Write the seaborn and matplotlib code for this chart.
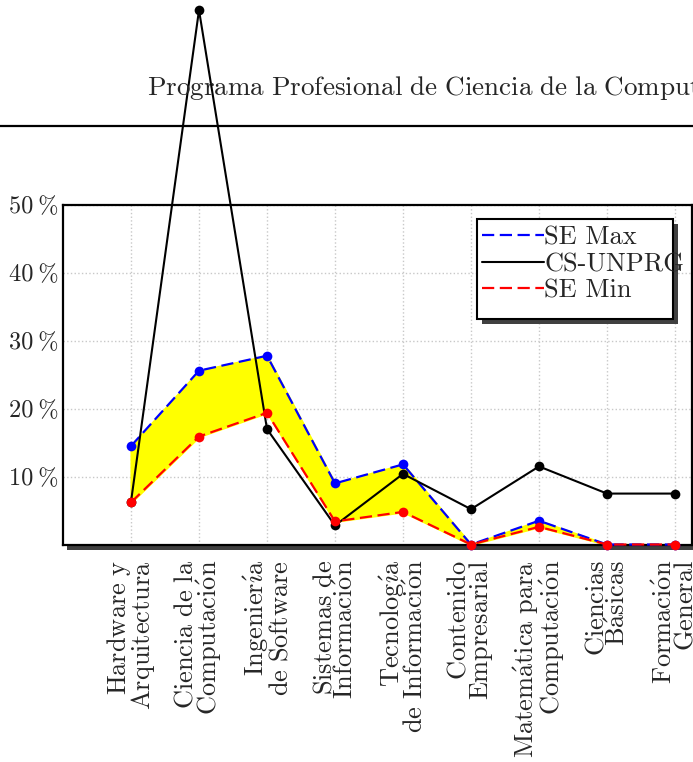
import numpy as np
import pandas as pd
import matplotlib
matplotlib.use('Agg')
import matplotlib.pyplot as plt
from matplotlib.lines import Line2D
from matplotlib.patches import Rectangle
import seaborn as sns

# ------------------------------------------------------------
# Data (percent of credits per knowledge area)
# ------------------------------------------------------------
categories = ["Hardware y\nArquitectura", "Ciencia de la\nComputación",
              "Ingeniería\nde Software", "Sistemas de\nInformación",
              "Tecnología\nde Información", "Contenido\nEmpresarial",
              "Matemática para\nComputación", "Ciencias\nBásicas",
              "Formación\nGeneral"]
area_idx = [1, 2, 3, 4, 5, 6, 7, 8, 9]
se_max = [14.5, 25.6, 27.8, 9.0, 11.8, 0.0, 3.5, 0.0, 0.0]
se_min = [6.2, 15.9, 19.4, 3.4, 4.8, 0.0, 2.6, 0.0, 0.0]
cs_unprg = [6.3, 78.7, 17.0, 2.8, 10.4, 5.2, 11.5, 7.5, 7.5]
y_ticks = [10, 20, 30, 40, 50]
title = "Programa Profesional de Ciencia de la Computación"

df = pd.DataFrame({'x': area_idx, 'max': se_max, 'min': se_min, 'cs': cs_unprg})

sns.set_style('white')
plt.rcParams['font.family'] = ['cmr10', 'DejaVu Serif']
plt.rcParams['mathtext.fontset'] = 'cm'
plt.rcParams['axes.formatter.use_mathtext'] = True


def tex(s):
    # cmr10 has no accented glyphs -> draw them with mathtext accents
    rep = {'á': r'\acute{a}', 'é': r'\acute{e}', 'í': r'\acute{\imath}',
           'ó': r'\acute{o}', 'ú': r'\acute{u}', ' ': r'\ '}
    return '\n'.join('$\\mathrm{' + ''.join(rep.get(c, c) for c in line) + '}$'
                     for line in s.split('\n'))


W, H = 693, 762
fig = plt.figure(figsize=(W / 100, H / 100), dpi=100)
ax = fig.add_axes([63 / W, 1 - 544.5 / H, 629 / W, 339.5 / H])

# shadow behind the axes frame
fig.add_artist(Rectangle((67 / W, 1 - 550 / H), 629 / W, 339.5 / H,
                         transform=fig.transFigure, facecolor='#404040',
                         edgecolor='none', zorder=-1))

dash = (0, (5.5, 2.5))
ax.fill_between(df['x'], df['min'], df['max'], facecolor='yellow',
                edgecolor='yellow', lw=1.5, zorder=1)
sns.lineplot(data=df, x='x', y='max', ax=ax, color='blue', lw=1.6,
             linestyle=dash, marker='o', markersize=7, markeredgewidth=0,
             clip_on=False, zorder=3)
sns.lineplot(data=df, x='x', y='cs', ax=ax, color='black', lw=1.5,
             marker='o', markersize=7, markeredgewidth=0,
             clip_on=False, zorder=3)
sns.lineplot(data=df, x='x', y='min', ax=ax, color='red', lw=1.6,
             linestyle=dash, marker='o', markersize=7, markeredgewidth=0,
             clip_on=False, zorder=3)

ax.set_xlim(0, 9.25)
ax.set_ylim(0, 50)
ax.set_xlabel('')
ax.set_ylabel('')

ax.set_xticks(area_idx)
ax.set_xticklabels([tex(c) for c in categories], rotation=90, ha='center',
                   va='top', multialignment='right', fontsize=19,
                   linespacing=0.85)
ax.set_yticks(y_ticks)
ax.set_yticklabels([f"{v}\u2009%" for v in y_ticks], fontsize=17.5)
ax.tick_params(axis='both', which='both', length=0)
ax.tick_params(axis='x', pad=11)
ax.tick_params(axis='y', pad=3)
ax.grid(True, axis='both', color='#c8c8c8', ls=':', lw=1)
for s in ax.spines.values():
    s.set_color('black')
    s.set_linewidth(1.6)
    s.set_visible(True)

# legend with hand drawn frame + shadow
lx0, lx1, ly0, ly1 = 477, 673, 219, 319


def ax_frac(px, py):
    return (px - 63) / 629, (544.5 - py) / 339.5


bx, by = ax_frac(lx0, ly1)
ax.add_patch(Rectangle((bx + 5 / 629, by - 5 / 339.5), 196 / 629, 100 / 339.5,
                       transform=ax.transAxes, facecolor='#404040',
                       edgecolor='none', zorder=6, clip_on=False))
ax.add_patch(Rectangle((bx, by), 196 / 629, 100 / 339.5,
                       transform=ax.transAxes, facecolor='white',
                       edgecolor='black', lw=1.5, zorder=6.5, clip_on=False))
handles = [Line2D([], [], color='blue', lw=1.6, linestyle=dash),
           Line2D([], [], color='black', lw=1.5),
           Line2D([], [], color='red', lw=1.6, linestyle=dash)]
leg = ax.legend(handles, ['SE Max', 'CS-UNPRG', 'SE Min'], loc='upper left',
                bbox_to_anchor=ax_frac(482, 226), borderaxespad=0, borderpad=0,
                frameon=False, fontsize=19, handlelength=2.35,
                handletextpad=0, labelspacing=0.1)
leg.set_zorder(7)

# header title and rule
fig.text(147 / W, 1 - 88 / H, tex(title), ha='left', va='center', fontsize=19.5)
fig.add_artist(Line2D([0, 1], [1 - 126 / H, 1 - 126 / H], color='black', lw=1.6,
                      transform=fig.transFigure))

fig.savefig('out.png', dpi=100)
